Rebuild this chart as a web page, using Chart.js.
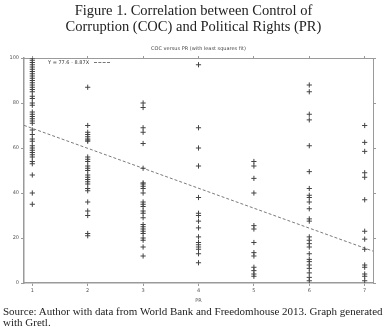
<!DOCTYPE html>
<html>
<head>
<meta charset="utf-8">
<script src="https://cdn.jsdelivr.net/npm/chart.js@4.4.1/dist/chart.umd.min.js"></script>
<style>
  html, body { margin: 0; padding: 0; background: #fff; }
  #wrap { position: relative; width: 387px; height: 327px; overflow: hidden; }
  #chartBox { position: absolute; left: 0; top: 0; width: 387px; height: 327px; }
  .fig-title { position: absolute; left: 0; top: 3px; width: 387px; text-align: center;
    font-family: "Liberation Serif", "DejaVu Serif", serif; font-size: 14.5px; line-height: 15.5px; color: #222; }
  .inner-title { position: absolute; left: 24px; width: 349px; top: 45px; text-align: center;
    font-family: "DejaVu Sans", sans-serif; font-size: 5px; line-height: 6px; color: #444; }
  .legend { position: absolute; left: 48px; top: 59px; font-family: "DejaVu Sans", sans-serif;
    font-size: 5px; line-height: 6px; color: #333; white-space: nowrap; }
  .legend .dash { display: inline-block; width: 16px; border-top: 1px dashed #777; vertical-align: middle; margin-left: 3px; }
  .caption { position: absolute; left: 3px; top: 306px; width: 384px;
    font-family: "Liberation Serif", "DejaVu Serif", serif; font-size: 11px; line-height: 10.5px; color: #222; }
</style>
</head>
<body>
<div id="wrap">
  <div id="chartBox"><canvas id="c" width="387" height="327"></canvas></div>
  <div class="fig-title">Figure 1. Correlation between Control of<br>Corruption (COC) and Political Rights (PR)</div>
  <div class="inner-title">COC versus PR (with least squares fit)</div>
  <div class="legend">Y = 77.6 - 8.87X <span class="dash"></span></div>
  <div class="caption">Source: Author with data from World Bank and Freedomhouse 2013. Graph generated with Gretl.</div>
</div>
<script>
// ---- data ----
const prLevels = [1, 2, 3, 4, 5, 6, 7];
const xTickLabels = ['1', '2', '3', '4', '5', '6', '7'];
const yTickValues = [0, 20, 40, 60, 80, 100];

const cocPR1 = [100, 99, 98, 97, 96, 95, 94, 93, 92, 91, 90, 89, 88, 87, 86, 85, 83, 82, 80, 79,
                76, 75, 74, 73, 72, 71, 68, 66, 64, 63, 61, 60, 59, 58, 57, 56, 54, 53, 48, 40, 35];
const cocPR2 = [87, 70, 67, 66, 65, 64, 63.5, 63, 56, 55, 54, 52, 51, 50, 48, 47, 46, 45, 44, 42, 41, 36, 32, 30, 22, 21];
const cocPR3 = [80, 78, 69, 67, 62, 51, 44.5, 44, 43, 42, 40, 36, 35, 34, 32, 31, 29, 26, 25, 24, 23, 22, 20, 19, 16, 12];
const cocPR4 = [97, 69, 60, 52, 38, 31, 30, 27.5, 24.5, 20.5, 18, 17, 16, 15, 13, 9];
const cocPR5 = [54, 52, 46.5, 40, 25.5, 24, 18, 13.5, 12, 7, 5.5, 4, 3];
const cocPR6 = [88, 85, 75, 72.5, 61, 49.5, 42, 39, 38, 36, 33, 28.5, 27.5, 20.5, 19, 17.5, 16, 13, 10.5, 9.5, 8, 6.5, 4.5, 2.5, 1];
const cocPR7 = [70, 62.5, 58.5, 49, 47, 37, 23, 19.5, 15, 8, 7, 4, 3, 1];

// least squares fit as printed in the key: Y = 77.6 - 8.87X
const fitIntercept = 77.6;
const fitSlope = -8.87;
const xRange = [0.85, 7.15];

// ---- build chart data ----
const columns = [cocPR1, cocPR2, cocPR3, cocPR4, cocPR5, cocPR6, cocPR7];
const scatterPoints = [];
columns.forEach((vals, i) => vals.forEach(v => scatterPoints.push({ x: prLevels[i], y: v })));
const fitPoints = xRange.map(x => ({ x: x, y: fitIntercept + fitSlope * x }));

const tickFont = { family: 'DejaVu Sans', size: 5 };
const axisColor = '#9a9a9a';

function setXTicks(scale) { scale.ticks = prLevels.map(v => ({ value: v })); }
function setYTicks(scale) { scale.ticks = yTickValues.map(v => ({ value: v })); }

new Chart(document.getElementById('c'), {
  type: 'scatter',
  data: {
    datasets: [
      {
        label: 'COC',
        data: scatterPoints,
        pointStyle: 'cross',
        pointRadius: 2.6,
        pointBorderWidth: 1,
        borderColor: '#444',
        backgroundColor: '#444',
        showLine: false,
        xAxisID: 'x', yAxisID: 'y'
      },
      {
        label: 'Y = 77.6 - 8.87X',
        type: 'line',
        data: fitPoints,
        borderColor: '#7a7a7a',
        borderWidth: 1,
        borderDash: [3, 2],
        pointRadius: 0,
        fill: false,
        xAxisID: 'x', yAxisID: 'y'
      }
    ]
  },
  options: {
    responsive: false,
    animation: false,
    events: [],
    layout: { padding: { left: 0, right: 14, top: 58, bottom: 23 } },
    plugins: { legend: { display: false }, tooltip: { enabled: false }, title: { display: false } },
    scales: {
      x: {
        type: 'linear', position: 'bottom', min: xRange[0], max: xRange[1],
        afterBuildTicks: setXTicks,
        afterFit: s => { s.height = 21; },
        grid: { drawOnChartArea: false, drawTicks: true, tickLength: 3, color: axisColor },
        border: { display: true, color: axisColor, width: 1.5 },
        ticks: { font: tickFont, color: '#555', padding: 2, maxRotation: 0,
                 callback: (v) => xTickLabels[prLevels.indexOf(v)] },
        title: { display: true, text: 'PR', font: tickFont, color: '#555', padding: { top: 2, bottom: 0 } }
      },
      y: {
        type: 'linear', position: 'left', min: 0, max: 100,
        afterBuildTicks: setYTicks,
        afterFit: s => { s.width = 24; },
        grid: { drawOnChartArea: false, drawTicks: true, tickLength: 3, color: axisColor },
        border: { display: true, color: axisColor, width: 1.5 },
        ticks: { font: tickFont, color: '#555', padding: 2 }
      },
      x2: {
        type: 'linear', position: 'top', min: xRange[0], max: xRange[1],
        afterBuildTicks: setXTicks,
        afterFit: s => { s.height = 0; },
        grid: { drawOnChartArea: false, drawTicks: true, tickLength: 2, color: axisColor },
        border: { display: true, color: axisColor, width: 1 },
        ticks: { display: false }
      },
      y2: {
        type: 'linear', position: 'right', min: 0, max: 100,
        afterBuildTicks: setYTicks,
        afterFit: s => { s.width = 0; },
        grid: { drawOnChartArea: false, drawTicks: true, tickLength: 3, color: axisColor },
        border: { display: true, color: axisColor, width: 1 },
        ticks: { display: false }
      }
    }
  }
});
</script>
</body>
</html>
